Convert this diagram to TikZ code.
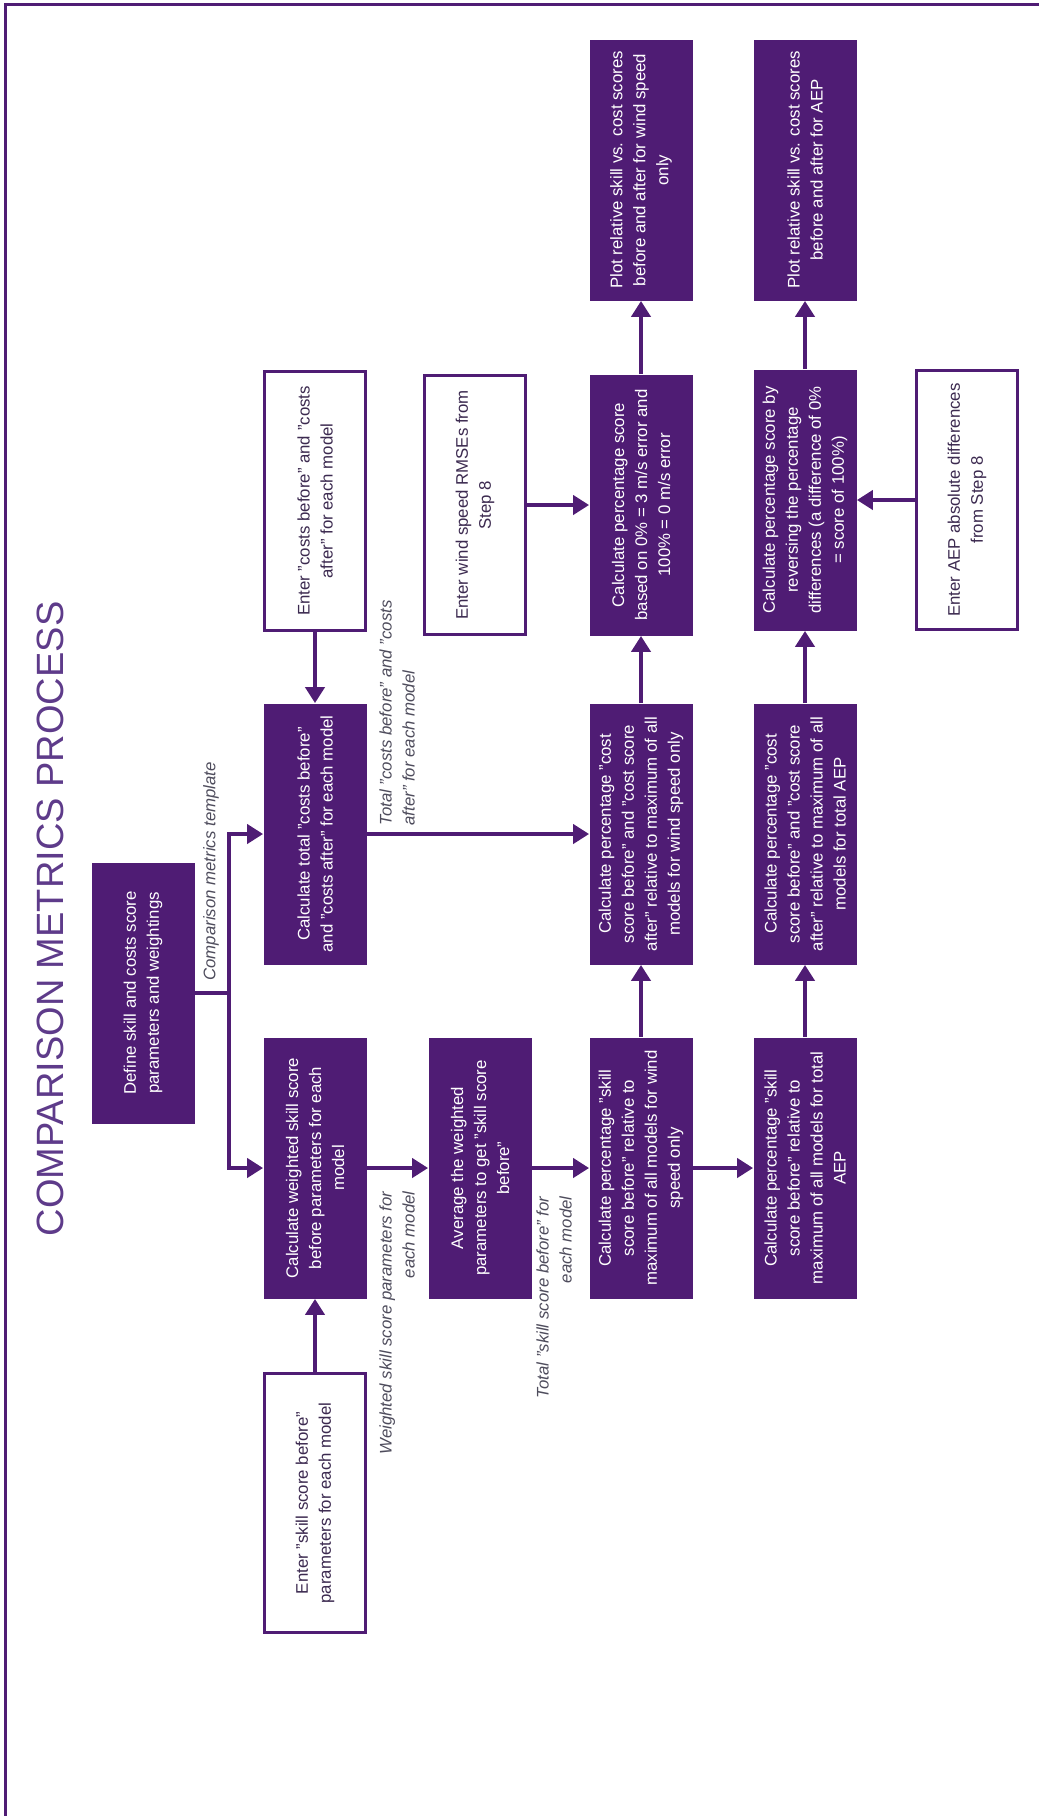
\documentclass[tikz,border=0pt]{standalone}
\usepackage{fontspec}
\setmainfont{Liberation Sans}
\usetikzlibrary{arrows.meta}
\definecolor{plum}{HTML}{4F1C74}
\definecolor{titleplum}{HTML}{5E3B8A}
\definecolor{inktext}{HTML}{3C2A50}
\definecolor{notegray}{HTML}{4E4C5C}
\tikzset{
  procbox/.style={rotate=90, fill=plum, text=white, minimum width=130.5pt,
    minimum height=51.5pt, align=center, inner sep=2pt,
    font=\fontsize{8.4}{11.5}\selectfont},
  inbox/.style={rotate=90, draw=plum, line width=1.2pt, fill=white, text=inktext,
    minimum width=129.5pt, minimum height=50.5pt, align=center, inner sep=2pt,
    font=\fontsize{8.4}{11.5}\selectfont},
  note/.style={rotate=90, text=notegray, inner sep=0pt,
    font=\fontsize{8.4}{11.5}\selectfont\itshape},
  flow/.style={draw=plum, line width=2.2pt},
  arr/.style={flow, -{Triangle[length=8pt,width=9.5pt]}},
}
\begin{document}
\begin{tikzpicture}[x=0.5pt,y=-0.5pt]
\useasboundingbox (0,0) rectangle (1039,1816);
% frame (top and left edges)
\draw[plum, line width=1.5pt] (5,1816) -- (5,4) -- (1039,4);

% title
\node[rotate=90, font=\fontsize{19}{22}\selectfont, text=titleplum]
  (title) at (50,919) {COMPARISON METRICS PROCESS};

% process boxes
\node[procbox] (define)  at (143,993)  {Define skill and costs score\\parameters and weightings};
\node[procbox] (tcosts)  at (315,834)  {Calculate total "costs before"\\and "costs after" for each model};
\node[procbox] (wskill)  at (315,1168) {Calculate weighted skill score\\before parameters for each\\model};
\node[procbox] (avg)     at (480,1168) {Average the weighted\\parameters to get "skill score\\before"};
\node[procbox] (pskillW) at (641,1168) {Calculate percentage "skill\\score before" relative to\\maximum of all models for wind\\speed only};
\node[procbox] (pskillA) at (805,1168) {Calculate percentage "skill\\score before" relative to\\maximum of all models for total\\AEP};
\node[procbox] (pcostW)  at (641,834)  {Calculate percentage "cost\\score before" and "cost score\\after" relative to maximum of all\\models for wind speed only};
\node[procbox] (pcostA)  at (805,834)  {Calculate percentage "cost\\score before" and "cost score\\after" relative to maximum of all\\models for total AEP};
\node[procbox] (pscoreW) at (641,505)  {Calculate percentage score\\based on 0\% = 3 m/s error and\\100\% = 0 m/s error};
\node[procbox] (prevA)   at (805,500)  {Calculate percentage score by\\reversing the percentage\\differences (a difference of 0\%\\= score of 100\%)};
\node[procbox] (plotW)   at (641,170)  {Plot relative skill vs. cost scores\\before and after for wind speed\\only};
\node[procbox] (plotA)   at (805,170)  {Plot relative skill vs. cost scores\\before and after for AEP};

% input boxes
\node[inbox] (eskill) at (315,1503) {Enter "skill score before"\\parameters for each model};
\node[inbox] (ecosts) at (315,501)  {Enter "costs before" and "costs\\after" for each model};
\node[inbox] (ewind)  at (475,505)  {Enter wind speed RMSEs from\\Step 8};
\node[inbox] (eaep)   at (967,500)  {Enter AEP absolute differences\\from Step 8};

% connector notes
\node[note, anchor=west, align=left] (ntemplate) at (211,981) {Comparison metrics template};
\node[note, anchor=west, align=left] (ntotcost) at (397,826) {Total "costs before" and "costs\\after" for each model};
\node[note, anchor=east, align=right] (nweight) at (397,1191) {Weighted skill score parameters for\\each model};
\node[note, anchor=east, align=right] (ntotskill) at (554,1196) {Total "skill score before" for\\each model};

% connectors
\coordinate (branch) at (229,993);
\draw[flow] (define.south) -- (branch);
\draw[arr] (branch) |- (tcosts.north);
\draw[arr] (branch) |- (wskill.north);
\draw[arr] (eskill.east) -- (wskill.west);
\draw[arr] (ecosts.west) -- (tcosts.east);
\draw[arr] (wskill.south) -- (avg.north);
\draw[arr] (avg.south) -- (pskillW.north);
\draw[arr] (pskillW.south) -- (pskillA.north);
\draw[arr] (pskillW.east) -- (pcostW.west);
\draw[arr] (pskillA.east) -- (pcostA.west);
\draw[arr] (tcosts.south) -- (pcostW.north);
\draw[arr] (pcostW.east) -- (pscoreW.west);
\draw[arr] (pcostA.east) -- (prevA.west);
\draw[arr] (ewind.south) -- (pscoreW.north);
\draw[arr] (eaep.north) -- (prevA.south);
\draw[arr] (pscoreW.east) -- (plotW.west);
\draw[arr] (prevA.east) -- (plotA.west);
\end{tikzpicture}
\end{document}
